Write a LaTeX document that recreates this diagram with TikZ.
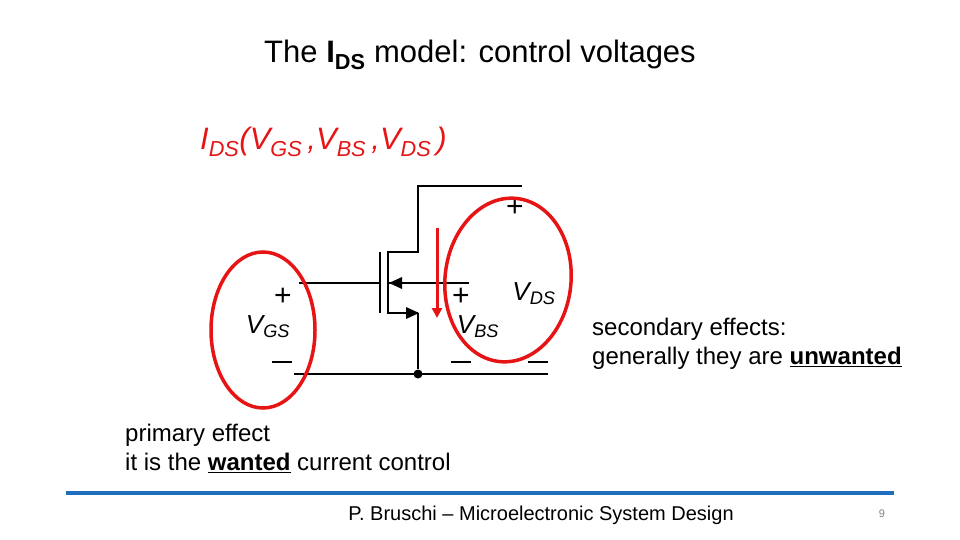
\documentclass[tikz,border=0pt]{standalone}
\usepackage{fontspec}
\setmainfont{Liberation Sans}
\usetikzlibrary{arrows.meta}
\definecolor{myred}{RGB}{230,20,20}
\definecolor{myblue}{RGB}{30,110,190}
\begin{document}
\begin{tikzpicture}[x=1pt,y=-1pt,
  wire/.style={line width=1.2pt,black},
  lbl/.style={font=\fontsize{26}{30}\selectfont\itshape,inner sep=0},
  pm/.style={font=\fontsize{30}{30}\selectfont,inner sep=0},
  txt/.style={font=\fontsize{24}{28}\selectfont,anchor=west,inner sep=0}]
\useasboundingbox (0,0) rectangle (960,540);
\node[inner sep=0,font=\fontsize{31}{36}\selectfont] (title) at (480,55) {The \textbf{I\textsubscript{DS}} model: control voltages};
\node[inner sep=0,anchor=west,text=myred,font=\fontsize{31}{36}\selectfont\itshape] (f) at (200,142) {I\textsubscript{DS}(V\textsubscript{GS}\,,V\textsubscript{BS}\,,V\textsubscript{DS}\,)};
% MOSFET
\coordinate (dR) at (522,186); \coordinate (dT) at (418,186);
\coordinate (dB) at (418,252); \coordinate (cT) at (388,252);
\coordinate (cB) at (388,313); \coordinate (sR) at (418,313);
\coordinate (gT) at (380,252); \coordinate (gB) at (380,313);
\coordinate (gL) at (299,283); \coordinate (gR) at (380,283);
\coordinate (bL) at (388,283); \coordinate (bR) at (469,283);
\coordinate (bot1) at (294,374); \coordinate (bot2) at (548,374);
\coordinate (s1) at (528,362); \coordinate (s2) at (548,362);
\draw[wire] (dR) -- (dT) -- (dB) -- (cT) -- (cB) -- (sR);
\draw[wire] (gT) -- (gB);
\draw[wire] (gL) -- (gR);
\draw[wire] (bR) -- (bL);
\fill (389,283) -- (402,277) -- (402,289) -- cycle;
\fill (419,313) -- (406,307) -- (406,319) -- cycle;
\node[circle,fill,inner sep=0,minimum size=9pt] (dot) at (418,374) {};
\draw[wire] (sR) -- (dot);
\draw[wire] (bot1) -- (bot2);
\draw[wire] (s1) -- (s2);
\node[pm] (p1) at (283,297) {+};
\node[pm] (p2) at (461,297) {+};
\node[pm] (p3) at (515,208) {+};
\coordinate (m1a) at (272,362); \coordinate (m1b) at (292,362);
\coordinate (m2a) at (451,362); \coordinate (m2b) at (471,362);
\draw[wire] (m1a) -- (m1b);
\draw[wire] (m2a) -- (m2b);
\node[lbl] (vgs) at (268,327) {V\textsubscript{GS}};
\node[lbl] (vbs) at (478,327) {V\textsubscript{BS}};
\node[lbl] (vds) at (534,294) {V\textsubscript{DS}};
% red marks
\draw[myred,line width=3.5pt] (263,330) ellipse [x radius=52,y radius=78];
\draw[myred,line width=3.5pt,rotate around={-6:(508,280)}] (508,280) ellipse [x radius=63,y radius=82];
\coordinate (a1) at (437,228); \coordinate (a2) at (437,318);
\draw[myred,line width=3pt,-{Triangle[length=10pt,width=10pt]}] (a1) -- (a2);
% texts
\node[txt] (t1) at (592,329) {secondary effects:};
\node[txt] (t2) at (592,358) {generally they are \underline{\textbf{unwanted}}};
\node[txt] (t3) at (125,435) {primary effect};
\node[txt] (t4) at (125,463) {it is the \underline{\textbf{wanted}} current control};
\draw[myblue,line width=4pt] (66,493) -- (894,493);
\node[inner sep=0,font=\fontsize{20}{24}\selectfont] (foot) at (541,515) {P. Bruschi – Microelectronic System Design};
\node[inner sep=0,text=gray,font=\fontsize{11}{12}\selectfont] (pg) at (882,514) {9};
\end{tikzpicture}
\end{document}
